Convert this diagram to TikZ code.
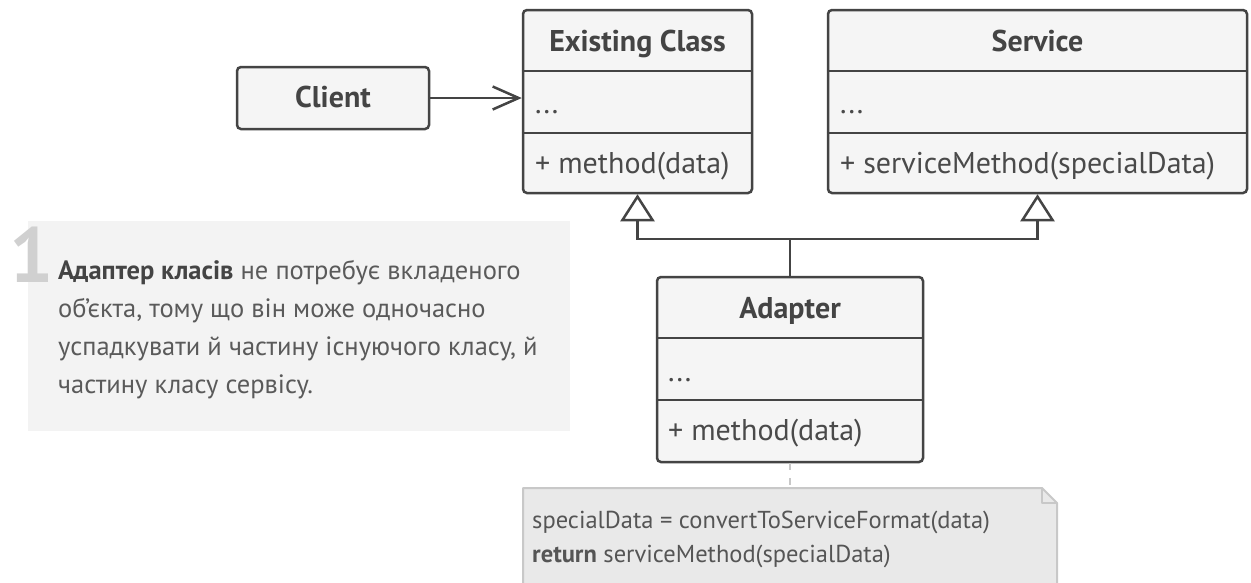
\documentclass[tikz,border=0pt]{standalone}
\usepackage{fontspec}
\setmainfont{PT Sans}
\usetikzlibrary{arrows.meta}

\definecolor{ink}{HTML}{444444}
\definecolor{txt}{HTML}{4A4A4A}
\definecolor{boxfill}{HTML}{F5F5F5}
\definecolor{descfill}{HTML}{F3F3F3}
\definecolor{desctext}{HTML}{5A5A5A}
\definecolor{digit}{HTML}{D0D0D0}
\definecolor{notefill}{HTML}{E9E9E9}
\definecolor{noteline}{HTML}{C8C8C8}
\definecolor{notetext}{HTML}{555555}

\begin{document}
\begin{tikzpicture}[x=1pt, y=-1pt,
  classbox/.style={draw=ink, line width=2.5pt, fill=boxfill, rounded corners=4pt, inner sep=0pt},
  divider/.style={draw=ink, line width=2.5pt},
  title/.style={font=\bfseries\fontsize{30}{34}\selectfont, text=ink, anchor=base, inner sep=0pt},
  member/.style={font=\fontsize{30}{34}\selectfont, text=txt, anchor=base west, inner sep=0pt},
  assoc/.style={draw=ink, line width=2.5pt, -{Straight Barb[length=26pt, width=23pt]}},
  inherit/.style={draw=ink, line width=2.5pt, -{Triangle[length=27pt, width=34pt, fill=white]}},
  plainline/.style={draw=ink, line width=2.5pt},
  descline/.style={font=\fontsize{26.5}{38}\selectfont, text=desctext, anchor=base west, inner sep=0pt},
  notetextstyle/.style={font=\fontsize{24.5}{34}\selectfont, text=notetext, anchor=base west, inner sep=0pt},
  notelink/.style={draw=noteline, line width=2pt, dash pattern=on 7pt off 8pt},
]
\useasboundingbox (0,0) rectangle (1251,582);
\clip (0,0) rectangle (1251,582);
\fill[white] (0,0) rectangle (1251,582);

% explanatory panel on the left
\node[fill=descfill, minimum width=542pt, minimum height=210pt, inner sep=0pt] (desc) at (299,326) {};
\node[font=\bfseries\fontsize{78}{80}\selectfont, text=digit, anchor=base west, inner sep=0pt] (num) at (9,282) {1};
\node[descline] (d1) at (58,279) {\textbf{\color{ink}Адаптер класів} не потребує вкладеного};
\node[descline] (d2) at (58,317) {об’єкта, тому що він може одночасно};
\node[descline] (d3) at (58,355) {успадкувати й частину існуючого класу, й};
\node[descline] (d4) at (58,393) {частину класу сервісу.};

% Client
\node[classbox, minimum width=192pt, minimum height=62pt] (cl) at (333,98) {};
\node[title] (clT) at (333,107) {Client};

% Existing Class
\node[classbox, minimum width=229pt, minimum height=183pt] (ec) at (637.5,101.5) {};
\draw[divider] (ec.west |- 0,71) -- (ec.east |- 0,71);
\draw[divider] (ec.west |- 0,133) -- (ec.east |- 0,133);
\node[title] (ecT) at (637.5,51) {Existing Class};
\node[member] (ecA) at (535,113) {...};
\node[member] (ecM) at (535,173) {+ method(data)};

% Service
\node[classbox, minimum width=419pt, minimum height=183pt] (sv) at (1037.5,101.5) {};
\draw[divider] (sv.west |- 0,71) -- (sv.east |- 0,71);
\draw[divider] (sv.west |- 0,133) -- (sv.east |- 0,133);
\node[title] (svT) at (1037.5,51) {Service};
\node[member] (svA) at (840,113) {...};
\node[member] (svM) at (840,173) {+ serviceMethod(specialData)};

% Adapter
\node[classbox, minimum width=266pt, minimum height=185pt] (ad) at (790,369.5) {};
\draw[divider] (ad.west |- 0,338) -- (ad.east |- 0,338);
\draw[divider] (ad.west |- 0,400) -- (ad.east |- 0,400);
\node[title] (adT) at (790,318) {Adapter};
\node[member] (adA) at (668,381) {...};
\node[member] (adM) at (668,440) {+ method(data)};

% Client uses Existing Class
\draw[assoc] (cl.east) -- (cl.east -| ec.west);

% Adapter inherits from both classes
\coordinate (jn) at (ad.north |- 0,239);
\draw[plainline] (ad.north) -- (jn);
\draw[inherit] (jn) -| (ec.south);
\draw[inherit] (jn) -| (sv.south);

% note attached to the Adapter
\coordinate (nt) at (790,488);
\filldraw[fill=notefill, draw=noteline, line width=2pt, line join=round]
  (523,488) -- (1042,488) -- (1057,503) -- (1057,600) -- (523,600) -- cycle;
\draw[draw=noteline, line width=2pt, line join=round] (1042,488) -- (1042,503) -- (1057,503);
\draw[notelink] (ad.south) -- (nt);
\node[notetextstyle] (n1) at (532,528) {specialData = convertToServiceFormat(data)};
\node[notetextstyle] (n2) at (532,562) {\textbf{return} serviceMethod(specialData)};
\end{tikzpicture}
\end{document}
